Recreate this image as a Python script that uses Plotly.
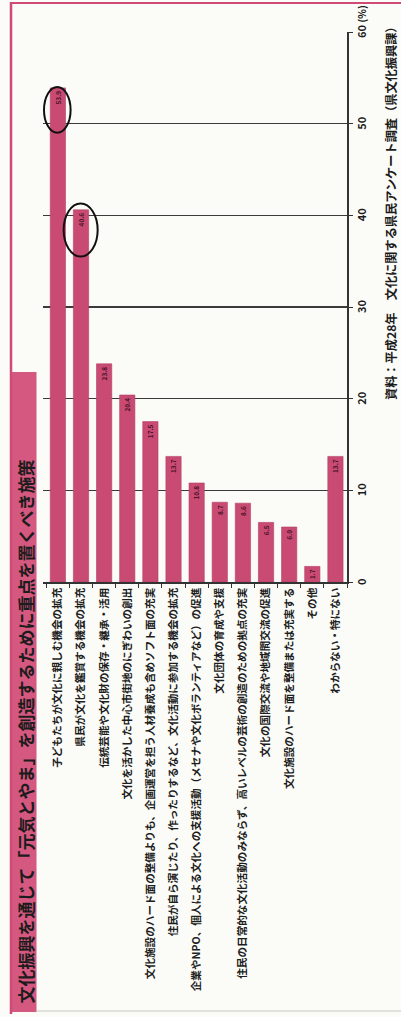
import plotly.graph_objects as go

# ---------------- data ----------------
categories = [
    "子どもたちが文化に親しむ機会の拡充",
    "県民が文化を鑑賞する機会の拡充",
    "伝統芸能や文化財の保存・継承・活用",
    "文化を活かした中心市街地のにぎわいの創出",
    "文化施設のハード面の整備よりも、企画運営を担う人材養成も含めソフト面の充実",
    "住民が自ら演じたり、作ったりするなど、文化活動に参加する機会の拡充",
    "企業やNPO、個人による文化への支援活動（メセナや文化ボランティアなど）の促進",
    "文化団体の育成や支援",
    "住民の日常的な文化活動のみならず、高いレベルの芸術の創造のための拠点の充実",
    "文化の国際交流や地域間交流の促進",
    "文化施設のハード面を整備または充実する",
    "その他",
    "わからない・特にない",
]
values = [53.9, 40.6, 23.8, 20.4, 17.5, 13.7, 10.8, 8.7, 8.6, 6.5, 6.0, 1.7, 13.7]
value_ticks = [0, 10, 20, 30, 40, 50, 60]
value_tick_labels = ["0", "10", "20", "30", "40", "50", "60"]
unit_label = "(%)"
circled_items = [0, 1]
title_text = "文化振興を通じて「元気とやま」を創造するために重点を置くべき施策"
source_text = "資料：平成28年　文化に関する県民アンケート調査（県文化振興課）"

# ---------------- layout geometry ----------------
W, H = 401, 1017
L, R, T, B = 43, 54, 32, 435
PW, PH = W - L - R, H - T - B

def px_x(p):
    return (p - L) / PW

def px_y(p):
    return (H - B - p) / PH

BAR = "#c94b74"
PINK = "#d4587f"
BG = "#fbfbf7"
FONT = "Noto Sans CJK JP"
INK = "#1c1c1c"

fig = go.Figure()
fig.add_trace(go.Bar(
    x=categories,
    y=values,
    marker=dict(color=BAR, line=dict(color="#b23f66", width=0.6)),
    text=[f"{v:.1f}" for v in values],
    textposition="auto",
    textangle=-90,
    insidetextanchor="end",
    insidetextfont=dict(family=FONT, size=10.5, color="#4a1526", weight=700),
    outsidetextfont=dict(family=FONT, size=10.5, color="#333333", weight=700),
    cliponaxis=False,
    hoverinfo="skip",
))

shapes = []
ell = {0: (0.6, 0.55, 4.9, 0.1), 1: (0.75, 0.72, 5.1, 0.7)}
for i in circled_items:
    dl, dr, dn, up = ell[i]
    shapes.append(dict(type="circle", xref="x", yref="y",
                       x0=i - dl, x1=i + dr, y0=values[i] - dn, y1=values[i] + up,
                       line=dict(color="#111111", width=2)))
shapes.append(dict(type="rect", xref="paper", yref="paper", layer="below",
                   x0=px_x(12), x1=px_x(36.5), y0=px_y(1012), y1=px_y(372),
                   fillcolor=PINK, line=dict(width=0)))
shapes.append(dict(type="line", xref="paper", yref="paper",
                   x0=px_x(11), x1=px_x(11), y0=px_y(1014), y1=px_y(2),
                   line=dict(color="#cf4a76", width=2.5)))
shapes.append(dict(type="line", xref="paper", yref="paper",
                   x0=px_x(10), x1=px_x(401), y0=px_y(3), y1=px_y(3),
                   line=dict(color="#cf4a76", width=2)))
shapes.append(dict(type="line", xref="paper", yref="paper",
                   x0=px_x(37), x1=px_x(401), y0=px_y(1011), y1=px_y(1011),
                   line=dict(color="#d9d9d4", width=1.5)))

annotations = [
    dict(text=title_text, xref="paper", yref="paper",
         x=px_x(24.5), y=px_y(1006), xanchor="center", yanchor="bottom",
         textangle=-90, showarrow=False,
         font=dict(family=FONT, size=17, color=INK, weight=700)),
    dict(text=source_text, xref="paper", yref="paper",
         x=px_x(391), y=px_y(18), xanchor="center", yanchor="top",
         textangle=-90, showarrow=False,
         font=dict(family=FONT, size=12.2, color=INK, weight=700)),
    dict(text=unit_label, xref="paper", yref="paper",
         x=px_x(361), y=px_y(25), xanchor="center", yanchor="bottom",
         textangle=-90, showarrow=False,
         font=dict(family=FONT, size=10, color=INK, weight=700)),
]
for v, lab in zip(value_ticks, value_tick_labels):
    annotations.append(dict(text=lab, xref="paper", yref="y",
                            x=px_x(361), y=v, xanchor="center", yanchor="middle",
                            textangle=-90, showarrow=False,
                            font=dict(family=FONT, size=11, color=INK, weight=700)))

fig.update_layout(
    width=W, height=H,
    margin=dict(l=L, r=R, t=T, b=B, autoexpand=False),
    paper_bgcolor=BG, plot_bgcolor=BG,
    showlegend=False,
    bargap=0.34,
    shapes=shapes,
    annotations=annotations,
    xaxis=dict(
        type="category",
        tickangle=-90,
        tickfont=dict(family=FONT, size=10.6, color="#1e1e1e", weight=700),
        showline=True, linecolor="#333333", linewidth=1.5,
        ticks="outside", tickson="boundaries", ticklen=4, tickcolor="#333333",
        showgrid=False, automargin=False, fixedrange=True,
    ),
    yaxis=dict(
        side="right",
        range=[0, 60],
        tickvals=value_ticks,
        showticklabels=False,
        showline=True, linecolor="#333333", linewidth=1.5,
        ticks="outside", ticklen=4, tickcolor="#333333",
        showgrid=True, gridcolor="#3a3a3a", gridwidth=1.2,
        zeroline=False, automargin=False, fixedrange=True,
    ),
)

fig.write_html(
    "out.html",
    config={"displayModeBar": False, "staticPlot": True},
    post_script="document.body.style.margin='0px';document.body.style.overflow='hidden';",
)
